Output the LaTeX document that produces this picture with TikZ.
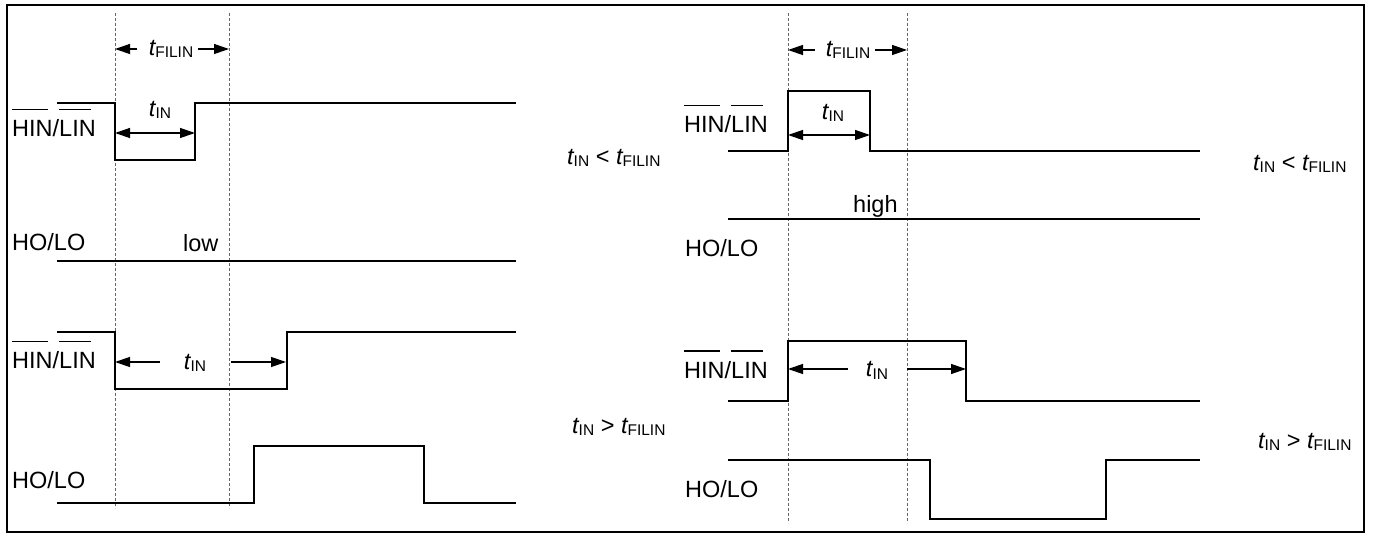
\documentclass[tikz,border=0pt]{standalone}
\usepackage{fontspec}
\setmainfont{Liberation Sans}
\usetikzlibrary{arrows.meta}
\newsavebox\ovlbox
\newcommand\tsub[1]{{\itshape t}{\fontsize{15.5}{16}\selectfont\raisebox{-2pt}{#1}}}
\newcommand\ovl[1]{\sbox\ovlbox{#1}\rlap{\rule[26.5pt]{\dimexpr\wd\ovlbox-5pt\relax}{1.5pt}}\usebox\ovlbox}
\begin{document}
\begin{tikzpicture}[x=1pt,y=-1pt,
  signal/.style={line width=2.2pt,line cap=rect,line join=miter},
  guide/.style={gray!80!black,line width=0.9pt,dash pattern=on 3pt off 2pt},
  dim/.style={line width=1.3pt,-{Triangle[length=15pt,width=10pt]}},
  dimboth/.style={line width=1.3pt,{Triangle[length=15pt,width=10pt]}-{Triangle[length=15pt,width=10pt]}},
  lbl/.style={anchor=base west,inner sep=0pt,font=\fontsize{23.5}{27}\selectfont},
  clbl/.style={anchor=base,inner sep=0pt,font=\fontsize{23.5}{27}\selectfont}]
\useasboundingbox (0,0) rectangle (1373,534);
\draw[line width=2.5pt] (7,5) rectangle (1364,532);

% ---------- left panel ----------
\coordinate (La1) at (115,13); \coordinate (La2) at (115,508);
\coordinate (Lb1) at (229,13); \coordinate (Lb2) at (229,508);
\draw[guide] (La1) -- (La2);
\draw[guide] (Lb1) -- (Lb2);

\node[clbl] (lfil) at (171,56) {\tsub{FILIN}};
\coordinate (lfA) at (115,49); \coordinate (lfB) at (229,49);
\draw[dim] (137,49) -- (lfA);
\draw[dim] (198,49) -- (lfB);

\draw[signal] (58,103) -- (115,103) -- (115,160) -- (195,160) -- (195,103) -- (515,103);
\coordinate (ltA) at (115,133); \coordinate (ltB) at (195,133);
\draw[dimboth] (ltA) -- (ltB);
\node[clbl] (lin1) at (160,117) {\tsub{IN}};
\node[lbl] (lhl1) at (12,137) {\ovl{HIN}/\ovl{LIN}};

\draw[signal] (58,261) -- (515,261);
\node[lbl] (lho1) at (12,251) {HO/LO};
\node[lbl] (low) at (183,252) {low};

\draw[signal] (58,332) -- (115,332) -- (115,389) -- (287,389) -- (287,332) -- (515,332);
\coordinate (lbA) at (115,362); \coordinate (lbB) at (286,362);
\draw[dim] (160,362) -- (lbA);
\draw[dim] (231,362) -- (lbB);
\node[clbl] (lin2) at (195,370) {\tsub{IN}};
\node[lbl] (lhl2) at (12,369) {\ovl{HIN}/\ovl{LIN}};

\draw[signal] (58,503) -- (254,503) -- (254,446) -- (424,446) -- (424,503) -- (515,503);
\node[lbl] (lho2) at (12,488) {HO/LO};

\node[lbl] (lc1) at (567,165) {\tsub{IN} < \tsub{FILIN}};
\node[lbl] (lc2) at (572,433) {\tsub{IN} > \tsub{FILIN}};

% ---------- right panel ----------
\coordinate (Ra1) at (788,13); \coordinate (Ra2) at (788,523);
\coordinate (Rb1) at (907,13); \coordinate (Rb2) at (907,523);
\draw[guide] (Ra1) -- (Ra2);
\draw[guide] (Rb1) -- (Rb2);

\node[clbl] (rfil) at (848,57) {\tsub{FILIN}};
\coordinate (rfA) at (788,50); \coordinate (rfB) at (907,50);
\draw[dim] (815,50) -- (rfA);
\draw[dim] (875,50) -- (rfB);

\draw[signal] (729,151) -- (788,151) -- (788,91) -- (870,91) -- (870,151) -- (1199,151);
\coordinate (rtA) at (788,135); \coordinate (rtB) at (870,135);
\draw[dimboth] (rtA) -- (rtB);
\node[clbl] (rin1) at (833,120) {\tsub{IN}};
\node[lbl] (rhl1) at (684,133) {\ovl{HIN}/\ovl{LIN}};

\draw[signal] (729,219) -- (1199,219);
\node[lbl] (high) at (853,213) {high};
\node[lbl] (rho1) at (685,257) {HO/LO};

\draw[signal] (729,401) -- (788,401) -- (788,341) -- (966,341) -- (966,401) -- (1199,401);
\coordinate (rbA) at (788,369); \coordinate (rbB) at (966,369);
\draw[dim] (848,369) -- (rbA);
\draw[dim] (907,369) -- (rbB);
\node[clbl] (rin2) at (877,377) {\tsub{IN}};
\node[lbl] (rhl2) at (684,378) {\ovl{HIN}/\ovl{LIN}};

\draw[signal] (729,460) -- (930,460) -- (930,519) -- (1106,519) -- (1106,460) -- (1199,460);
\node[lbl] (rho2) at (685,497) {HO/LO};

\node[lbl] (rc1) at (1253,171) {\tsub{IN} < \tsub{FILIN}};
\node[lbl] (rc2) at (1258,448) {\tsub{IN} > \tsub{FILIN}};
\end{tikzpicture}
\end{document}
